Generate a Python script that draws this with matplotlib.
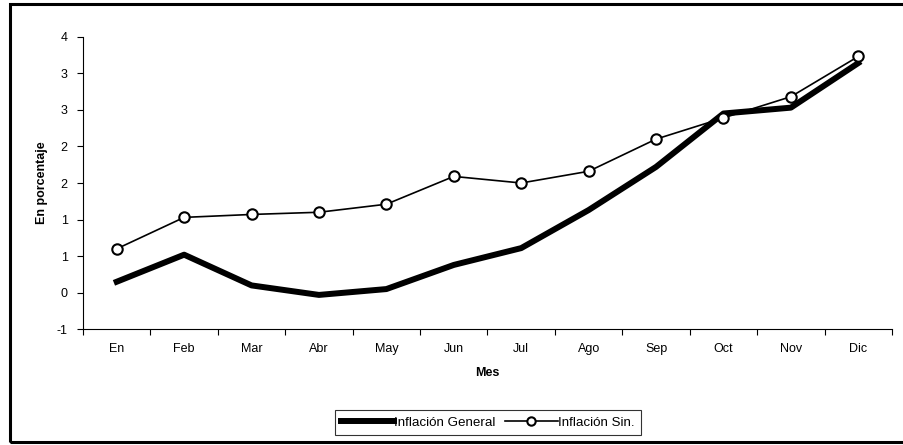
import matplotlib.pyplot as plt
import numpy as np
from matplotlib.patches import Rectangle

plt.rcParams['font.family'] = ['Liberation Sans', 'DejaVu Sans']

meses = ['En', 'Feb', 'Mar', 'Abr', 'May', 'Jun', 'Jul', 'Ago', 'Sep', 'Oct', 'Nov', 'Dic']
inflacion_general = [0.15, 0.52, 0.10, -0.03, 0.05, 0.38, 0.61, 1.13, 1.72, 2.45, 2.53, 3.14]
inflacion_sin = [0.60, 1.03, 1.07, 1.10, 1.21, 1.59, 1.50, 1.66, 2.10, 2.39, 2.68, 3.23]
y_ticks = [-0.5, 0.0, 0.5, 1.0, 1.5, 2.0, 2.5, 3.0, 3.5]
y_labels = ['-1', '0', '1', '1', '2', '2', '3', '3', '4']

fs = 9

fig = plt.figure(figsize=(9.04, 4.45), dpi=100)
ax = fig.add_axes([83/904, 1-329.3/445, 809/904, 292.6/445])

x = np.arange(len(meses)) + 0.5
ax.plot(x, inflacion_general, color='black', lw=4.3, solid_joinstyle='round',
        label='Inflación General')
ax.plot(x, inflacion_sin, color='black', lw=1.2, marker='o', ms=7.5,
        mfc='white', mec='black', mew=1.5, label='Inflación Sin.')

ax.set_xlim(0, 12)
ax.set_ylim(-0.5, 3.5)
ax.set_xticks(np.arange(13))
ax.set_xticklabels([])
ax.set_xticks(x, minor=True)
ax.set_xticklabels(meses, minor=True)
ax.tick_params(axis='x', which='minor', length=0, pad=10, labelsize=fs)
ax.tick_params(axis='x', which='major', length=4, direction='out', width=0.8)
ax.set_yticks(y_ticks)
ax.set_yticklabels(y_labels)
ax.tick_params(axis='y', length=4, direction='out', width=0.8, labelsize=fs, pad=7)

for s in ['top', 'right']:
    ax.spines[s].set_visible(False)
ax.spines['left'].set_linewidth(0.8)
ax.spines['bottom'].set_linewidth(0.8)

ax.set_xlabel('Mes', fontsize=fs, fontweight='bold')
ax.xaxis.set_label_coords(0.5, (329.3-373)/292.6, transform=ax.transAxes)
ax.xaxis.label.set_va('center')
ax.set_ylabel('En porcentaje', fontsize=fs, fontweight='bold')
ax.yaxis.set_label_coords((42-83)/809, 0.5)
ax.yaxis.label.set_va('center')

leg = fig.legend(loc='center', bbox_to_anchor=(487.5/904, 1-422.5/445), ncol=2,
                 fontsize=9.6, frameon=True, fancybox=False, edgecolor='black',
                 handlelength=4.0, handletextpad=0.0, columnspacing=0.7,
                 borderpad=0.45, borderaxespad=0, markerscale=0.8)
leg.get_frame().set_linewidth(0.8)

# figure frame
fig.patches.append(Rectangle((9.5/904, 1-441.5/445), 900/904, 437.5/445,
                             transform=fig.transFigure, fill=False,
                             edgecolor='black', lw=2.2, clip_on=False))

fig.savefig('out.png', dpi=100)
